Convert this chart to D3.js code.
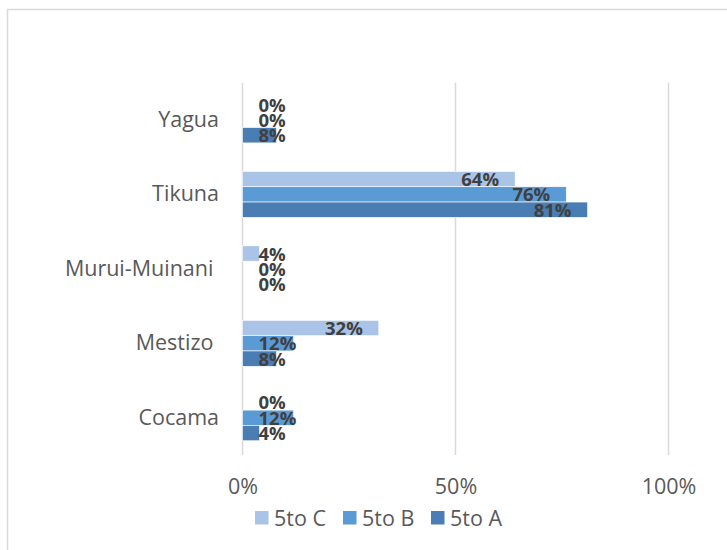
<!DOCTYPE html>
<html><head><meta charset="utf-8">
<script src="https://cdn.jsdelivr.net/npm/d3@7"></script>
<style>body{margin:0;background:#fff}svg{display:block}</style>
</head><body>
<script>
const categories = ["Yagua", "Tikuna", "Murui-Muinani ", "Mestizo ", "Cocama"];
const seriesNames = ["5to C", "5to B", "5to A"];
const values5toC = [0, 0.64, 0.04, 0.32, 0];
const values5toB = [0, 0.76, 0, 0.12, 0.12];
const values5toA = [0.08, 0.81, 0, 0.08, 0.04];
const tickValues = [0, 0.5, 1];
const tickLabels = ["0%", "50%", "100%"];
const colors = ["#AAC4E7", "#5B9BD5", "#497DB3"];

const seriesValues = [values5toC, values5toB, values5toA];
const W = 727, H = 550;
const svg = d3.select("body").append("svg").attr("width", W).attr("height", H);

svg.append("rect").attr("x", 7.5).attr("y", 9.5).attr("width", 740).attr("height", 560)
  .attr("fill", "#fff").attr("stroke", "#d9d9d9").attr("stroke-width", 1.5);

const x = d3.scaleLinear().domain([0, 1]).range([242.5, 668.5]);
const y = d3.scaleBand().domain(categories).range([82.7, 455]).paddingInner(0.383).paddingOuter(0.1915);
const ySub = d3.scaleBand().domain(seriesNames).range([0, y.bandwidth()]);

// gridlines
svg.append("g").selectAll("line").data(tickValues).join("line")
  .attr("x1", d => x(d)).attr("x2", d => x(d)).attr("y1", 82.7).attr("y2", 455)
  .attr("stroke", "#d9d9d9").attr("stroke-width", 1.5);

// y axis labels
const yAxis = svg.append("g").attr("transform", `translate(${x(0)},0)`)
  .call(d3.axisLeft(y).tickSize(0).tickPadding(23.5));
yAxis.select(".domain").remove();
yAxis.selectAll("text").attr("font-family", "Open Sans").attr("font-size", 21.5)
  .attr("fill", "#595959").style("white-space", "pre");

// x axis labels
const xAxis = svg.append("g").attr("transform", `translate(0,455)`)
  .call(d3.axisBottom(x).tickValues(tickValues).tickFormat((d, i) => tickLabels[i]).tickSize(0));
xAxis.select(".domain").remove();
xAxis.selectAll("text").attr("font-family", "Open Sans").attr("font-size", 21.5).attr("fill", "#595959")
  .attr("y", 39).attr("dy", null);

// bars
const flat = [];
categories.forEach((c, ci) => seriesNames.forEach((s, si) => flat.push({c, s, si, v: seriesValues[si][ci]})));
svg.append("g").selectAll("rect").data(flat).join("rect")
  .attr("x", x(0)).attr("y", d => y(d.c) + ySub(d.s))
  .attr("width", d => x(d.v) - x(0)).attr("height", ySub.bandwidth())
  .attr("fill", d => colors[d.si]).attr("stroke", d => d.v > 0 ? "#fff" : "none").attr("stroke-width", 0.6);

// labels
const lbl = svg.append("g").selectAll("text").data(flat).join("text")
  .attr("font-family", "Open Sans").attr("font-weight", "bold").attr("font-size", 18.5)
  .attr("fill", "#404040").attr("text-anchor", "end")
  .attr("y", d => y(d.c) + ySub(d.s) + ySub.bandwidth() / 2).attr("dy", "0.38em")
  .text(d => Math.round(d.v * 100) + "%");
lbl.attr("x", function(d) {
  const w = this.getComputedTextLength();
  return Math.max(x(d.v) - 16, x(0) + 16 + w);
});

// legend
const leg = svg.append("g").selectAll("g").data(seriesNames).join("g")
  .attr("transform", (d, i) => `translate(${255 + i * 88},511)`);
leg.append("rect").attr("width", 13.5).attr("height", 13.5).attr("fill", (d, i) => colors[i]);
leg.append("text").attr("x", 19).attr("y", 14.5).attr("font-family", "Open Sans").attr("font-size", 21.5)
  .attr("fill", "#595959").text(d => d);
</script>
</body></html>
